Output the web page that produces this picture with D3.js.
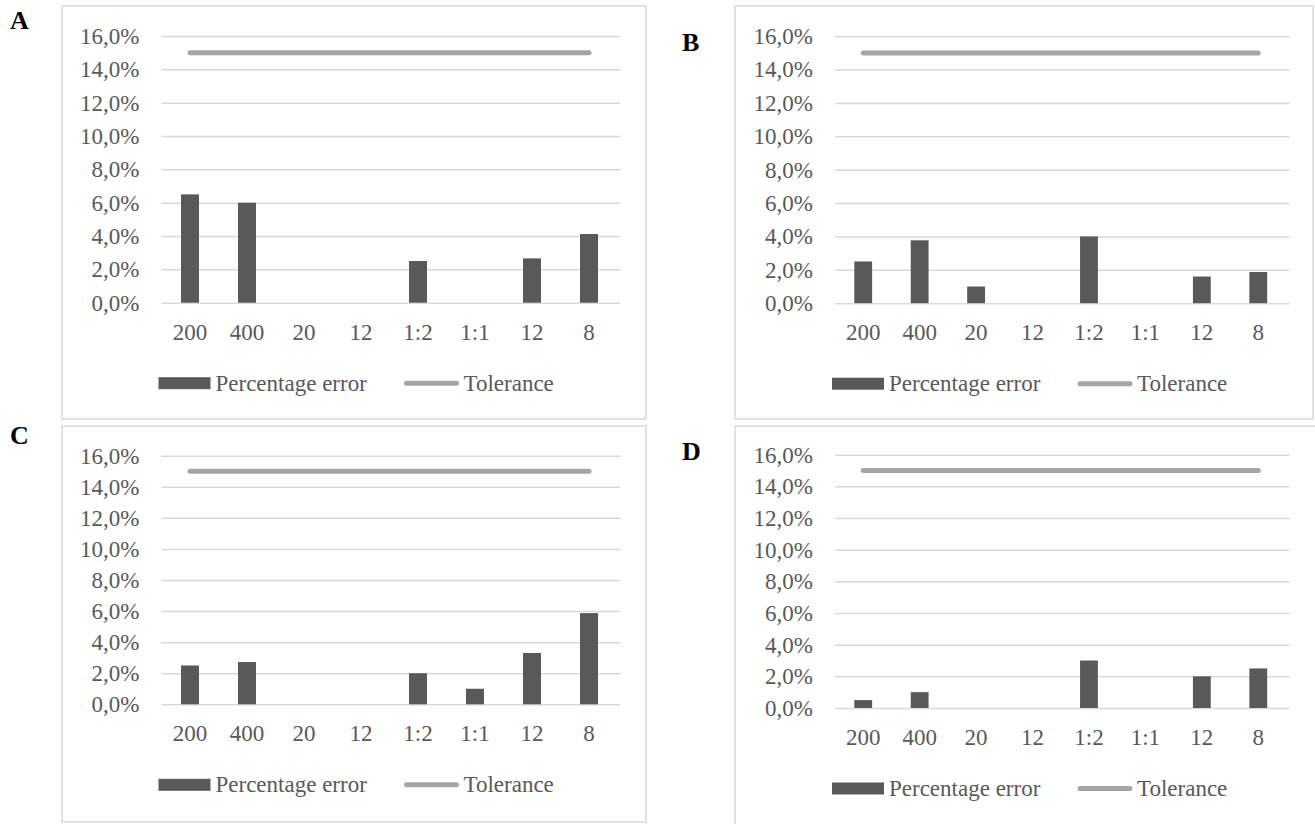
<!DOCTYPE html>
<html>
<head>
<meta charset="utf-8">
<script src="https://cdn.jsdelivr.net/npm/d3@7"></script>
<style>
  body { margin: 0; background: #fff; }
  svg text { font-family: "Liberation Serif", "DejaVu Serif", serif !important; }
</style>
</head>
<body>
<svg id="chart" width="1315" height="824"></svg>
<script>
// categories (labels repeat, so bars are keyed by index)
var categories = ["200", "400", "20", "12", "1:2", "1:1", "12", "8"];
var panelNames = ["A", "B", "C", "D"];

// percentage error per panel, as fractions
var errorA = [0.065, 0.060, 0, 0, 0.025, 0, 0.0266, 0.0412];
var errorB = [0.025, 0.0377, 0.010, 0, 0.040, 0, 0.016, 0.0187];
var errorC = [0.025, 0.0272, 0, 0, 0.020, 0.010, 0.033, 0.0587];
var errorD = [0.005, 0.010, 0, 0, 0.030, 0, 0.020, 0.025];
var tolerance = 0.15;
var yTicks = [0, 0.02, 0.04, 0.06, 0.08, 0.10, 0.12, 0.14, 0.16];

// layout of each panel: frame, plot range, letter position
var panels = [
    {name: panelNames[0], data: errorA, box: [62, 6, 646, 419], xr: [161.5, 617.5], yr: [302.7, 36], lx: 10, ly: 29},
    {name: panelNames[1], data: errorB, box: [735, 6, 1313, 419], xr: [835, 1286.5], yr: [303.2, 36.2], lx: 682, ly: 51},
    {name: panelNames[2], data: errorC, box: [62, 426, 646, 822], xr: [161.5, 617.5], yr: [704.3, 455.7], lx: 10, ly: 444},
    {name: panelNames[3], data: errorD, box: [735, 426, 1318, 830], xr: [835, 1286.5], yr: [708, 454.7], lx: 682, ly: 460}
];

var locale = d3.formatLocale({decimal: ",", thousands: ".", grouping: [3], currency: ["", "%"]});
var fmt = locale.format(".1%");

var textColor = "#595959", barColor = "#595959", tolColor = "#a5a5a5", gridColor = "#d9d9d9";

var svg = d3.select("#chart");

panels.forEach(function(p) {
    var g = svg.append("g");

    // frame
    g.append("rect")
        .attr("x", p.box[0]).attr("y", p.box[1])
        .attr("width", p.box[2] - p.box[0]).attr("height", p.box[3] - p.box[1])
        .attr("fill", "none").attr("stroke", gridColor).attr("stroke-width", 1.5);

    // letter
    g.append("text")
        .attr("x", p.lx).attr("y", p.ly)
        .attr("font-size", 26).attr("font-weight", "bold").attr("fill", "#000")
        .text(p.name);

    var x = d3.scaleBand()
        .domain(d3.range(categories.length))
        .range(p.xr)
        .paddingInner(0.684)
        .paddingOuter(0.342);

    var y = d3.scaleLinear()
        .domain([0, 0.16])
        .range(p.yr);

    // grid + y labels
    var yAxis = g.append("g")
        .attr("transform", "translate(" + p.xr[0] + ",0)")
        .call(d3.axisLeft(y).tickValues(yTicks).tickFormat(fmt)
            .tickSize(-(p.xr[1] - p.xr[0] + 3)).tickPadding(22));
    yAxis.select(".domain").remove();
    yAxis.selectAll("line").attr("stroke", gridColor).attr("stroke-width", 1.5);
    yAxis.selectAll("text")
        .attr("fill", textColor).attr("font-size", 23);

    // x labels
    var xAxis = g.append("g")
        .attr("transform", "translate(0," + p.yr[0] + ")")
        .call(d3.axisBottom(x).tickSize(0).tickFormat(function(i) { return categories[i]; }));
    xAxis.select(".domain").remove();
    xAxis.selectAll("text")
        .attr("y", 37).attr("dy", 0)
        .attr("fill", textColor).attr("font-size", 23);

    // bars
    g.selectAll(".bar")
        .data(p.data)
        .enter().append("rect")
        .attr("class", "bar")
        .attr("x", function(d, i) { return x(i); })
        .attr("width", x.bandwidth())
        .attr("y", function(d) { return y(d); })
        .attr("height", function(d) { return y(0) - y(d); })
        .attr("fill", barColor);

    // tolerance line
    var line = d3.line()
        .x(function(d, i) { return x(i) + x.bandwidth() / 2; })
        .y(function() { return y(tolerance); });
    g.append("path")
        .datum(categories)
        .attr("d", line)
        .attr("fill", "none")
        .attr("stroke", tolColor)
        .attr("stroke-width", 5)
        .attr("stroke-linecap", "round");

    // legend
    var lx = p.xr[0] - 3, ly = p.yr[0] + 80.5;
    var lg = g.append("g").attr("transform", "translate(" + lx + "," + ly + ")");
    lg.append("rect")
        .attr("x", 0).attr("y", -6).attr("width", 52).attr("height", 12)
        .attr("fill", barColor);
    lg.append("text")
        .attr("x", 57).attr("y", 7.5)
        .attr("font-size", 23).attr("fill", textColor)
        .text("Percentage error");
    lg.append("line")
        .attr("x1", 248).attr("x2", 298).attr("y1", 0).attr("y2", 0)
        .attr("stroke", tolColor).attr("stroke-width", 5).attr("stroke-linecap", "round");
    lg.append("text")
        .attr("x", 305).attr("y", 7.5)
        .attr("font-size", 23).attr("fill", textColor)
        .text("Tolerance");
});
</script>
</body>
</html>
